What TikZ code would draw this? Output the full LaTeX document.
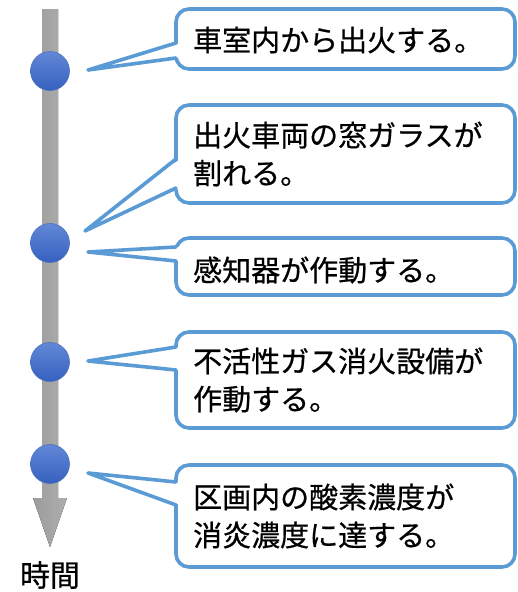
\documentclass[tikz,border=0pt]{standalone}
\usepackage{fontspec}
\setmainfont{Noto Sans CJK JP}[FakeBold=0.6]
\definecolor{cbl}{HTML}{5B9BD5}
\definecolor{dottop}{HTML}{6288D6}
\definecolor{dotbot}{HTML}{3560BE}
\definecolor{dotedge}{HTML}{4A70C2}
\definecolor{barl}{HTML}{9C9C9C}
\definecolor{barr}{HTML}{AEAEAE}
\begin{document}
\begin{tikzpicture}[x=1pt,y=-1pt,
  callout/.style={draw=cbl, line width=3.6pt, fill=white, rounded corners=13pt},
  ptrfill/.style={fill=white},
  ptr/.style={draw=cbl, line width=3.6pt, line join=round, line cap=round},
  dot/.style={circle, minimum size=39pt, inner sep=0pt, draw=dotedge, line width=0.6pt, top color=dottop, bottom color=dotbot},
  txt/.style={anchor=west, align=left, inner sep=0pt, font=\fontsize{29}{38}\selectfont}]
\useasboundingbox (0,0) rectangle (517,592);
% time arrow
\fill[left color=barl, right color=barr] (42,9) -- (58,9) -- (58,498) -- (67,498) -- (50,547) -- (33,498) -- (42,498) -- cycle;
\node[inner sep=0pt, font=\fontsize{30}{32}\selectfont] (time) at (50,575) {時間};
% dots
\node[dot] (d1) at (50,71) {};
\node[dot] (d2) at (50,243) {};
\node[dot] (d3) at (50,362) {};
\node[dot] (d4) at (50,464) {};
% tips
\coordinate (p1) at (88,70);
\coordinate (p2) at (85,231);
\coordinate (p3) at (88,252);
\coordinate (p4) at (88,361);
\coordinate (p5) at (88,473);
% callout 1
\draw[callout] (176,9) rectangle (515,69);
\fill[ptrfill] (180,43) -- (p1) -- (180,58) -- cycle;
\draw[ptr] (176,43) -- (p1) -- (176,58);
\node[txt] (t1) at (193,40) {車室内から出火する。};
% callout 2
\draw[callout] (176,105) rectangle (515,203);
\fill[ptrfill] (180,159) -- (p2) -- (180,188) -- cycle;
\draw[ptr] (176,159) -- (p2) -- (176,188);
\node[txt] (t2) at (193,154) {出火車両の窓ガラスが\\割れる。};
% callout 3
\draw[callout] (176,238) rectangle (515,295);
\fill[ptrfill] (180,247) -- (p3) -- (180,261) -- cycle;
\draw[ptr] (176,247) -- (p3) -- (176,261);
\node[txt] (t3) at (193,270) {感知器が作動する。};
% callout 4
\draw[callout] (176,332) rectangle (515,428);
\fill[ptrfill] (180,347) -- (p4) -- (180,370) -- cycle;
\draw[ptr] (176,347) -- (p4) -- (176,370);
\node[txt] (t4) at (193,380) {不活性ガス消火設備が\\作動する。};
% callout 5
\draw[callout] (176,465) rectangle (515,567);
\fill[ptrfill] (180,482) -- (p5) -- (180,505) -- cycle;
\draw[ptr] (176,482) -- (p5) -- (176,505);
\node[txt] (t5) at (193,516) {区画内の酸素濃度が\\消炎濃度に達する。};
\end{tikzpicture}
\end{document}
